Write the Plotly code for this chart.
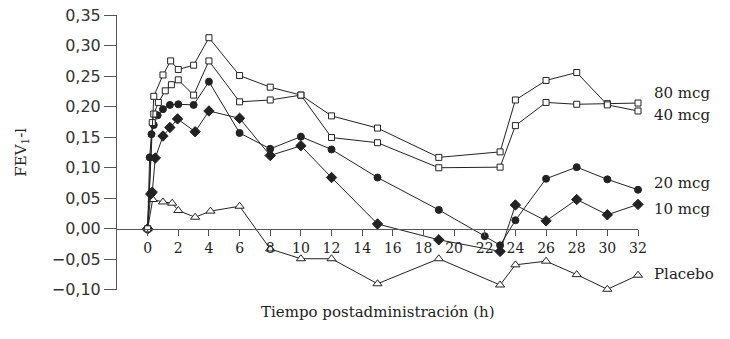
import plotly.graph_objects as go

# ---- data ----
x80 = [0, 0.4, 1, 1.5, 2, 3, 4, 6, 8, 10, 12, 15, 19, 23, 24, 26, 28, 30, 32]
y80 = [0, 0.217, 0.252, 0.275, 0.261, 0.268, 0.313, 0.251, 0.232, 0.219, 0.185,
       0.165, 0.117, 0.126, 0.211, 0.243, 0.256, 0.203, 0.193]

x40 = [0, 0.3, 0.4, 0.7, 1.15, 1.55, 2, 3, 4, 6, 8, 10, 12, 15, 19, 23, 24, 26, 28, 30, 32]
y40 = [0, 0.174, 0.188, 0.207, 0.226, 0.236, 0.244, 0.219, 0.275, 0.208, 0.211, 0.219,
       0.1495, 0.141, 0.100, 0.101, 0.169, 0.207, 0.204, 0.205, 0.206]

x20 = [0, 0.13, 0.25, 0.4, 0.65, 1, 1.45, 2, 3, 4, 6, 8, 10, 12, 15, 19, 22, 23, 24, 26, 28, 30, 32]
y20 = [0, 0.117, 0.155, 0.170, 0.186, 0.196, 0.203, 0.204, 0.203, 0.241, 0.157, 0.131,
       0.151, 0.130, 0.084, 0.031, -0.012, -0.027, 0.014, 0.082, 0.101, 0.081, 0.064]

x10 = [0, 0.2, 0.3, 0.5, 1, 1.45, 1.95, 3.1, 4, 6, 8, 10, 12, 15, 19, 23, 24, 26, 28, 30, 32]
y10 = [0, 0.057, 0.060, 0.116, 0.152, 0.166, 0.180, 0.159, 0.193, 0.181, 0.120, 0.136,
       0.084, 0.008, -0.018, -0.037, 0.039, 0.013, 0.048, 0.023, 0.040]

xpl = [0, 0.33, 1, 1.6, 2, 3.1, 4.1, 6, 8, 10, 12, 15, 19, 23, 24, 26, 28, 30, 32]
ypl = [0, 0.048, 0.044, 0.042, 0.030, 0.019, 0.029, 0.037, -0.033, -0.049, -0.049,
       -0.090, -0.049, -0.092, -0.059, -0.053, -0.075, -0.099, -0.076]

series_names = ["80 mcg", "40 mcg", "20 mcg", "10 mcg", "Placebo"]
label_y = [0.223, 0.186, 0.0757, 0.033, -0.0747]

x_ticks = list(range(0, 33, 2))
y_ticks = [-0.10, -0.05, 0.00, 0.05, 0.10, 0.15, 0.20, 0.25, 0.30, 0.35]

x_title = "Tiempo postadministración (h)"
y_title = "FEV<sub>1</sub>-l"

SERIF = "DejaVu Serif"
SANS = "DejaVu Sans"
LINE = "#222222"

fig = go.Figure()

def add(xs, ys, symbol, fill, size):
    fig.add_trace(go.Scatter(
        x=xs, y=ys, mode="lines+markers", cliponaxis=False,
        line=dict(color=LINE, width=1),
        marker=dict(symbol=symbol, size=size, color=fill,
                    line=dict(color=LINE, width=1)),
        showlegend=False, hoverinfo="skip"))

add(xpl, ypl, "triangle-up", "white", 8)
add(x10, y10, "diamond", LINE, 8)
add(x20, y20, "circle", LINE, 7)
add(x40, y40, "square", "white", 6)
add(x80, y80, "square", "white", 6)

for name, ly in zip(series_names, label_y):
    fig.add_annotation(x=32, y=ly, xref="x", yref="y", text=name,
                       showarrow=False, xanchor="left", xshift=14,
                       font=dict(family=SERIF, size=15, color="#222"))

# axis titles as annotations (paper coords relative to plot area)
fig.add_annotation(xref="paper", yref="paper", x=-0.184, y=0.5,
                   text=y_title, textangle=-90, showarrow=False,
                   xanchor="center", yanchor="middle",
                   font=dict(family=SERIF, size=15, color="#222"))
fig.add_annotation(xref="paper", yref="paper", x=0.5, y=-0.08,
                   text=x_title, showarrow=False,
                   xanchor="center", yanchor="middle",
                   font=dict(family=SERIF, size=15, color="#222"))

y0, y1 = -0.1002, 0.3502
xpos = (0 - y0) / (y1 - y0)

fig.update_layout(
    width=730, height=339,
    margin=dict(l=117, r=92, t=15, b=49, autoexpand=False),
    paper_bgcolor="white", plot_bgcolor="white",
    separators=", ",
    xaxis=dict(range=[-2, 32], anchor="free", position=xpos, automargin=False,
               tickvals=x_ticks, ticks="outside", ticklen=6, tickwidth=1,
               tickcolor="#555", showline=True, linecolor="#555", linewidth=1,
               showgrid=False, zeroline=False, ticklabeloverflow="allow",
               tickfont=dict(family=SERIF, size=14, color="#222")),
    yaxis=dict(range=[y0, y1], tickvals=y_ticks, tickformat=".2f", automargin=False,
               ticks="outside", ticklen=12, tickwidth=1, tickcolor="#555",
               showline=True, linecolor="#555", linewidth=1,
               showgrid=False, zeroline=False, ticklabeloverflow="allow",
               tickfont=dict(family=SANS, size=16, color="#333")),
)

# remove the browser's default 8px body margin so the figure sits at (0, 0)
fig.write_html("out.html",
               config={"displayModeBar": False, "staticPlot": True},
               post_script="document.body.style.margin='0';")
